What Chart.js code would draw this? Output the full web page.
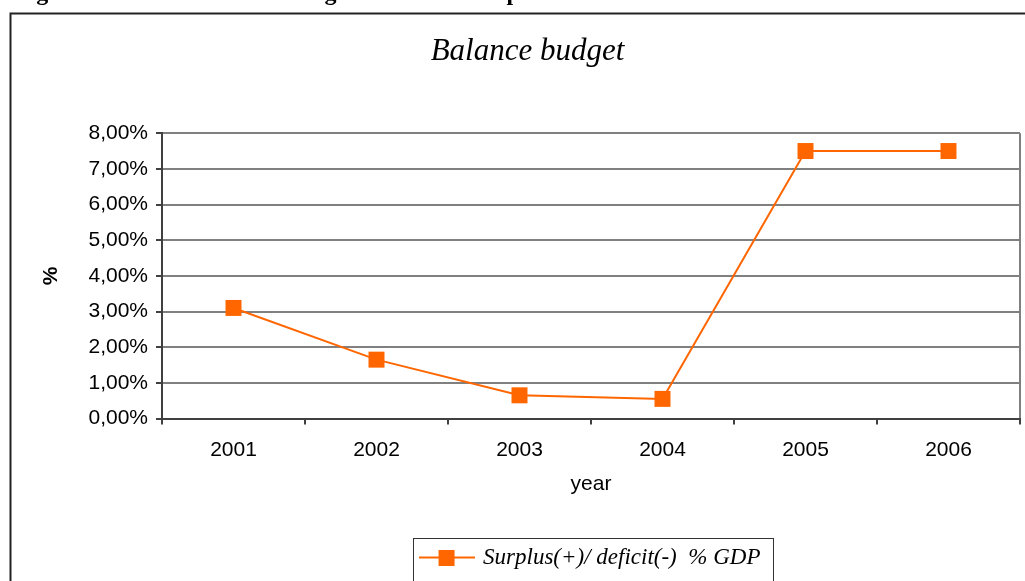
<!DOCTYPE html>
<html><head><meta charset="utf-8">
<script src="https://cdn.jsdelivr.net/npm/chart.js@4.4.1/dist/chart.umd.min.js"></script>
<style>html,body{margin:0;padding:0;background:#fff;overflow:hidden}#wrap{width:1025px;height:581px;position:relative}</style>
</head><body><div id="wrap"><canvas id="c" width="1025" height="581"></canvas></div>
<script>
const years = ['2001', '2002', '2003', '2004', '2005', '2006'];
const surplusPct = [3.1, 1.65, 0.65, 0.55, 7.5, 7.5];
const seriesLabel = 'Surplus(+)/ deficit(-)  % GDP';
const chartTitle = 'Balance budget';
const xTitle = 'year';
const yTitle = '%';
const captionText = 'Figure 3: Evolution of the budget balance as surplus';
const yMin = 0, yMax = 8, yStep = 1;

const ORANGE = '#FF6600';
const icon = document.createElement('canvas');
icon.width = 56; icon.height = 16;
(function(){
  const ic = icon.getContext('2d');
  ic.strokeStyle = ORANGE; ic.lineWidth = 2;
  ic.beginPath(); ic.moveTo(0, 8); ic.lineTo(56, 8); ic.stroke();
  ic.fillStyle = ORANGE; ic.fillRect(20, 0, 16, 16);
})();

const decorPlugin = {
  id: 'decor',
  beforeDraw(chart) {
    const ctx = chart.ctx;
    ctx.save();
    ctx.fillStyle = '#fff';
    ctx.fillRect(0, 0, chart.width, chart.height);
    ctx.fillStyle = '#000';
    ctx.font = 'bold 24px "Liberation Serif"';
    ctx.textBaseline = 'alphabetic';
    ctx.fillText(captionText, 15, 0);
    ctx.strokeStyle = '#222';
    ctx.lineWidth = 2;
    ctx.strokeRect(10.5, 13.5, 1200, 800);
    ctx.restore();
  },
  afterDraw(chart) {
    const lg = chart.legend;
    if (!lg || !lg.legendHitBoxes || !lg.legendHitBoxes.length) return;
    const hb = lg.legendHitBoxes[0];
    const cy = hb.top + hb.height / 2;
    const ctx = chart.ctx;
    ctx.save();
    ctx.strokeStyle = '#333';
    ctx.lineWidth = 1;
    ctx.strokeRect(Math.round(hb.left - 9) + 0.5, Math.round(cy - 20) + 0.5, Math.round(hb.width + 21), 100);
    ctx.restore();
  }
};

new Chart(document.getElementById('c'), {
  type: 'line',
  data: {
    labels: years,
    datasets: [{
      label: seriesLabel,
      data: surplusPct,
      borderColor: ORANGE,
      backgroundColor: ORANGE,
      borderWidth: 2,
      pointStyle: 'rect',
      pointRadius: 11.3,
      pointHoverRadius: 11.3,
      pointBorderWidth: 0,
      pointBackgroundColor: ORANGE,
      tension: 0,
      clip: false
    }]
  },
  options: {
    responsive: false,
    animation: false,
    devicePixelRatio: 1,
    layout: { autoPadding: false, padding: { left: 35, right: 5, top: 0, bottom: 2 } },
    plugins: {
      title: {
        display: true,
        text: chartTitle,
        color: '#000',
        font: { family: 'Liberation Serif', style: 'italic', weight: 'normal', size: 31 },
        padding: { top: 33, bottom: 63 }
      },
      legend: {
        position: 'bottom',
        fullSize: false,
        align: 'center',
        labels: {
          usePointStyle: true,
          pointStyleWidth: 50,
          color: '#000',
          font: { family: 'Liberation Serif', style: 'italic', size: 23 },
          padding: 47.5,
          generateLabels(chart) {
            const items = Chart.defaults.plugins.legend.labels.generateLabels(chart);
            items.forEach(it => { it.pointStyle = icon; });
            return items;
          }
        }
      },
      tooltip: { enabled: false }
    },
    scales: {
      x: {
        offset: true,
        afterFit(s) { s.height = 80; s.paddingLeft = 0; s.paddingRight = 0; },
        grid: {
          offset: true,
          drawOnChartArea: true,
          color: (c) => (c.index === undefined || c.index === years.length) ? '#808080' : 'rgba(0,0,0,0)',
          lineWidth: 2,
          tickLength: 6,
          tickColor: '#404040'
        },
        border: { color: '#404040', width: 2 },
        ticks: {
          color: '#000',
          font: { family: 'Liberation Sans', size: 21 },
          padding: 13,
          maxRotation: 0,
          autoSkip: false
        },
        title: {
          display: true,
          text: xTitle,
          color: '#000',
          font: { family: 'Liberation Sans', size: 21 },
          padding: { top: 0, bottom: 2 }
        }
      },
      y: {
        min: yMin,
        max: yMax,
        afterFit(s) { s.width = 127; },
        grid: {
          color: '#808080',
          lineWidth: 2,
          tickLength: 6,
          tickColor: '#404040'
        },
        border: { color: '#404040', width: 2 },
        ticks: {
          stepSize: yStep,
          color: '#000',
          font: { family: 'Liberation Sans', size: 21 },
          padding: 8,
          callback: (v) => v.toFixed(2).replace('.', ',') + '%'
        },
        title: {
          display: true,
          text: yTitle,
          color: '#000',
          font: { family: 'Liberation Sans', size: 21, weight: 'bold' },
          padding: { top: 4, bottom: 0 }
        }
      }
    }
  },
  plugins: [decorPlugin]
});
</script>
</body></html>
